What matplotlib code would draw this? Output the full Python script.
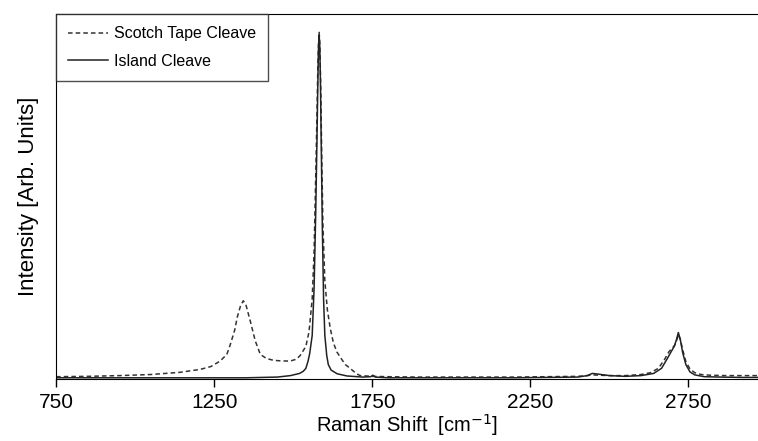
import matplotlib.pyplot as plt

plt.rcParams['font.family'] = ['Liberation Sans', 'DejaVu Sans']

# Raman shift (cm-1) and normalised intensity
tape_x = [750, 850, 950, 1050, 1142, 1206, 1240, 1269, 1290, 1301, 1315, 1323, 1333,
          1342, 1350, 1364, 1380, 1396, 1415, 1437, 1465, 1491, 1510, 1522, 1540,
          1550, 1560, 1566, 1571, 1575, 1578, 1580, 1582, 1584, 1587, 1590, 1594,
          1600, 1608, 1617, 1627, 1638, 1649, 1665, 1680, 1700, 1712, 1750, 1800,
          1900, 2000, 2100, 2200, 2300, 2400, 2430, 2446, 2470, 2500, 2550, 2600,
          2630, 2655, 2675, 2688, 2698, 2706, 2712, 2718, 2724, 2732, 2742, 2755,
          2770, 2790, 2820, 2870, 2920, 2970]
tape_y = [0.007, 0.008, 0.010, 0.013, 0.019, 0.027, 0.035, 0.050, 0.068, 0.095, 0.135,
          0.170, 0.200, 0.215, 0.205, 0.160, 0.105, 0.068, 0.057, 0.052, 0.050, 0.050,
          0.055, 0.065, 0.090, 0.130, 0.220, 0.350, 0.550, 0.720, 0.860, 0.920, 0.950,
          0.920, 0.800, 0.620, 0.420, 0.270, 0.190, 0.140, 0.100, 0.075, 0.060, 0.040,
          0.030, 0.015, 0.010, 0.008, 0.007, 0.006, 0.006, 0.006, 0.006, 0.007, 0.008,
          0.010, 0.012, 0.011, 0.010, 0.010, 0.013, 0.018, 0.030, 0.055, 0.075, 0.085,
          0.092, 0.105, 0.122, 0.110, 0.080, 0.048, 0.028, 0.018, 0.013, 0.011, 0.010,
          0.010, 0.010]

island_x = [750, 900, 1050, 1200, 1350, 1450, 1491, 1520, 1532, 1540, 1547, 1552,
            1560, 1566, 1571, 1575, 1578, 1580, 1582, 1584, 1586, 1589, 1592, 1596,
            1600, 1606, 1611, 1620, 1639, 1670, 1720, 1745, 1752, 1760, 1800, 1900,
            2000, 2100, 2200, 2300, 2400, 2430, 2446, 2465, 2500, 2550, 2600, 2640,
            2665, 2682, 2695, 2705, 2712, 2718, 2724, 2732, 2742, 2755, 2770, 2800,
            2850, 2920, 2970]
island_y = [0.004, 0.004, 0.004, 0.004, 0.004, 0.006, 0.010, 0.016, 0.022, 0.030,
            0.050, 0.070, 0.120, 0.250, 0.450, 0.650, 0.820, 0.910, 0.943, 0.910,
            0.820, 0.620, 0.420, 0.220, 0.120, 0.065, 0.040, 0.025, 0.015, 0.009,
            0.006, 0.007, 0.011, 0.006, 0.004, 0.004, 0.004, 0.004, 0.004, 0.005,
            0.006, 0.010, 0.016, 0.014, 0.010, 0.008, 0.010, 0.016, 0.030, 0.055,
            0.075, 0.090, 0.108, 0.128, 0.110, 0.072, 0.040, 0.020, 0.012, 0.007,
            0.006, 0.005, 0.005]

fig = plt.figure(figsize=(7.58, 4.41), dpi=100)
ax = fig.add_axes([0.074, 0.14, 0.926, 0.828])

ax.plot(tape_x, tape_y, linestyle=(0, (3, 2)), color='#333333', linewidth=1.1,
        label='Scotch Tape Cleave')
ax.plot(island_x, island_y, linestyle='-', color='#222222', linewidth=1.1,
        label='Island Cleave')

ax.set_xlim(750, 2970)
ax.set_ylim(0, 1)
ax.set_xticks([750, 1250, 1750, 2250, 2750])
ax.set_yticks([])
ax.tick_params(axis='x', labelsize=15, length=6, width=1, pad=4)
ax.spines['right'].set_visible(False)

ax.set_xlabel('Raman Shift  [cm$^{-1}$]', fontsize=14.5, labelpad=0)
ax.set_ylabel('Intensity [Arb. Units]', fontsize=16, labelpad=12)

leg = ax.legend(loc='upper left', fontsize=11.5, frameon=True, fancybox=False,
                borderaxespad=0, handlelength=2.5, handletextpad=0.4,
                labelspacing=0.8, borderpad=0.75)
leg.get_frame().set_edgecolor('#222222')
leg.get_frame().set_linewidth(1)

fig.savefig('out.png', dpi=100)
